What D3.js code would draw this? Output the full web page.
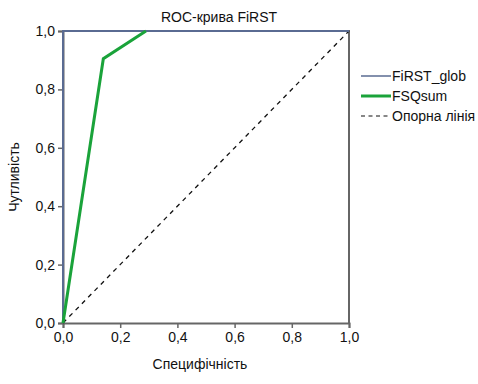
<!DOCTYPE html>
<html>
<head>
<meta charset="utf-8">
<script src="https://cdn.jsdelivr.net/npm/d3@7"></script>
<style>
  body { margin: 0; background: #fff; }
  text { font-family: "Liberation Sans", Arial, sans-serif; fill: #111; }
</style>
</head>
<body>
<div id="chart"></div>
<script>
// ROC curves: [1 - specificity, sensitivity]
const firstGlob = [[0, 0], [0, 1], [1, 1]];
const fsqSum = [[0, 0], [0.141, 0.905], [0.29, 1]];
const refLine = [[0, 0], [1, 1]];
const tickValues = [0, 0.2, 0.4, 0.6, 0.8, 1.0];
const legendNames = ["FiRST_glob", "FSQsum", "Опорна лінія"];

const W = 478, H = 384;
const margin = { top: 31, right: 129, bottom: 61, left: 63 };
const width = W - margin.left - margin.right;
const height = H - margin.top - margin.bottom;

const svg = d3.select("#chart").append("svg")
    .attr("width", W).attr("height", H);

const g = svg.append("g")
    .attr("transform", "translate(" + margin.left + "," + margin.top + ")");

const x = d3.scaleLinear().domain([0, 1]).range([0, width]);
const y = d3.scaleLinear().domain([0, 1]).range([height, 0]);
const fmt = d => d.toFixed(1).replace(".", ",");

// frame (right + top)
g.append("path")
    .attr("d", `M0,0H${width}V${height}`)
    .attr("fill", "none").attr("stroke", "#666").attr("stroke-width", 2);

// axes
const xAxis = g.append("g")
    .attr("transform", "translate(0," + height + ")")
    .call(d3.axisBottom(x).tickValues(tickValues).tickFormat(fmt).tickSize(5).tickPadding(4));
const yAxis = g.append("g")
    .call(d3.axisLeft(y).tickValues(tickValues).tickFormat(fmt).tickSize(5).tickPadding(3));

[xAxis, yAxis].forEach(a => {
    a.select(".domain").attr("stroke", "#666").attr("stroke-width", 2);
    a.selectAll(".tick line").attr("stroke", "#666").attr("stroke-width", 1.5);
    a.selectAll("text").style("font-size", "14px").attr("fill", "#111");
});

const line = d3.line().x(d => x(d[0])).y(d => y(d[1]));

g.append("path").datum(refLine).attr("d", line)
    .attr("fill", "none").attr("stroke", "#111").attr("stroke-width", 1.3)
    .attr("stroke-dasharray", "4.5,4.5");

g.append("path").datum(firstGlob).attr("d", line)
    .attr("fill", "none").attr("stroke", "#5a6b92").attr("stroke-width", 2);

g.append("path").datum(fsqSum).attr("d", line)
    .attr("fill", "none").attr("stroke", "#1aa33a").attr("stroke-width", 3)
    .attr("stroke-linejoin", "miter");

// title and axis labels
svg.append("text").attr("x", 219).attr("y", 22)
    .attr("text-anchor", "middle").style("font-size", "14px").text("ROC-крива FiRST");
svg.append("text").attr("x", 200).attr("y", 369)
    .attr("text-anchor", "middle").style("font-size", "14px").text("Специфічність");
svg.append("text")
    .attr("transform", `translate(19,${margin.top + height / 2}) rotate(-90)`)
    .attr("text-anchor", "middle").style("font-size", "14px").text("Чутливість");

// legend
const legendStyles = [
    { stroke: "#5a6b92", width: 1.5, dash: null },
    { stroke: "#1aa33a", width: 3, dash: null },
    { stroke: "#111", width: 1.2, dash: "4,3.5" }
];
const legend = svg.append("g").attr("transform", "translate(361,76)");
legendNames.forEach((name, i) => {
    const row = legend.append("g").attr("transform", `translate(0,${i * 20})`);
    row.append("line").attr("x1", 0).attr("x2", 30)
        .attr("stroke", legendStyles[i].stroke)
        .attr("stroke-width", legendStyles[i].width)
        .attr("stroke-dasharray", legendStyles[i].dash);
    row.append("text").attr("x", 31).attr("y", 5)
        .style("font-size", "14px").text(name);
});
</script>
</body>
</html>
